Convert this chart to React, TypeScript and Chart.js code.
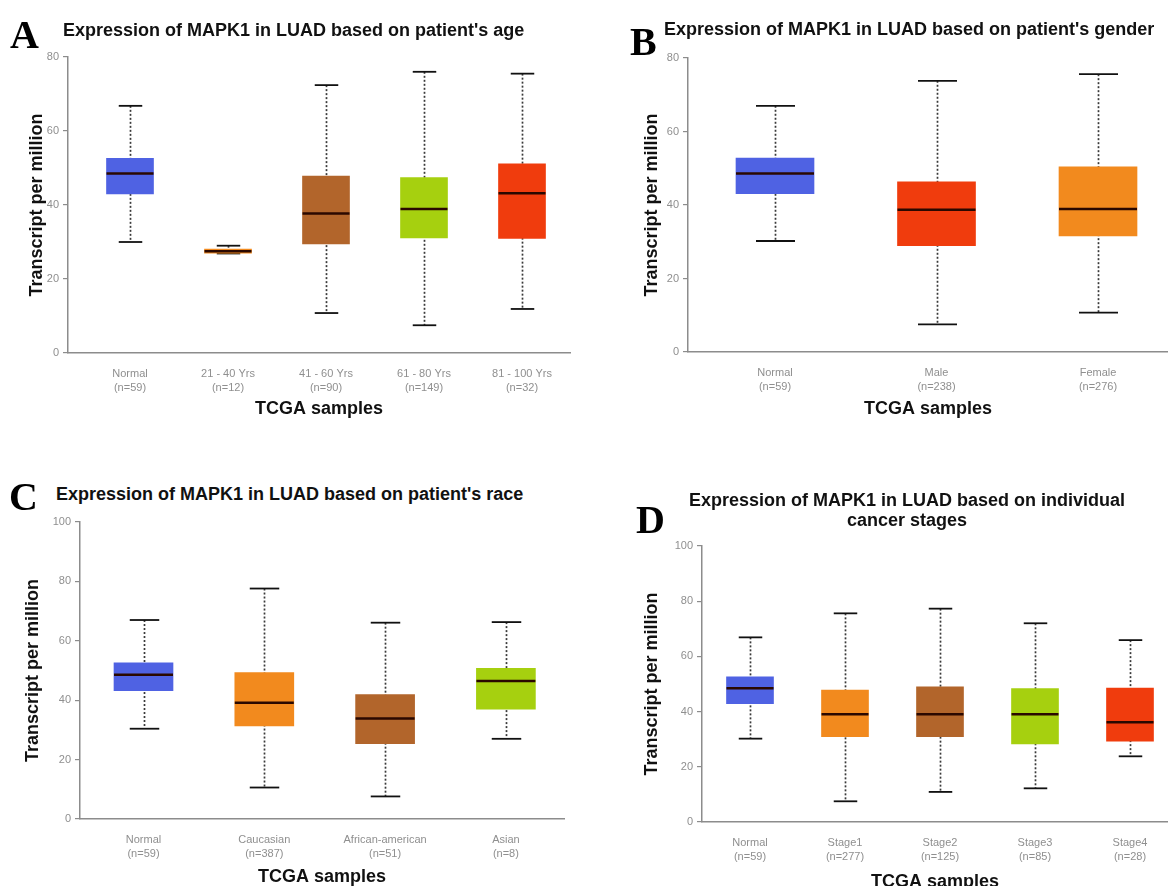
import { useEffect, useRef } from "react";
import { Chart, registerables } from "chart.js";

Chart.register(...registerables);

const BLUE = "#4f62e3";
const ORANGE = "#f28a1e";
const BROWN = "#b2652b";
const LIME = "#a6d00f";
const RED = "#f03c0d";

// ---------- Panel A: age ----------
const ageLabels = [
  ["Normal", "(n=59)"],
  ["21 - 40 Yrs", "(n=12)"],
  ["41 - 60 Yrs", "(n=90)"],
  ["61 - 80 Yrs", "(n=149)"],
  ["81 - 100 Yrs", "(n=32)"],
];
const ageMin = [30.0, 26.9, 10.8, 7.5, 11.9];
const ageQ1 = [43.0, 27.0, 29.5, 31.1, 31.0];
const ageMedian = [48.5, 27.5, 37.7, 38.9, 43.2];
const ageQ3 = [52.6, 28.1, 47.8, 47.4, 51.1];
const ageMax = [66.8, 29.0, 72.4, 76.0, 75.5];
const ageColors = [BLUE, ORANGE, BROWN, LIME, RED];
const ageTicks = [0, 20, 40, 60, 80];

// ---------- Panel B: gender ----------
const genderLabels = [
  ["Normal", "(n=59)"],
  ["Male", "(n=238)"],
  ["Female", "(n=276)"],
];
const genderMin = [30.2, 7.5, 10.7];
const genderQ1 = [43.1, 28.9, 31.6];
const genderMedian = [48.6, 38.7, 38.9];
const genderQ3 = [52.8, 46.3, 50.4];
const genderMax = [67.0, 73.8, 75.6];
const genderColors = [BLUE, RED, ORANGE];
const genderTicks = [0, 20, 40, 60, 80];

// ---------- Panel C: race ----------
const raceLabels = [
  ["Normal", "(n=59)"],
  ["Caucasian", "(n=387)"],
  ["African-american", "(n=51)"],
  ["Asian", "(n=8)"],
];
const raceMin = [30.4, 10.6, 7.6, 27.0];
const raceQ1 = [43.2, 31.3, 25.4, 37.0];
const raceMedian = [48.6, 39.1, 33.8, 46.5];
const raceQ3 = [52.6, 49.3, 41.9, 50.7];
const raceMax = [67.0, 77.6, 66.1, 66.3];
const raceColors = [BLUE, ORANGE, BROWN, LIME];
const raceTicks = [0, 20, 40, 60, 80, 100];

// ---------- Panel D: stage ----------
const stageLabels = [
  ["Normal", "(n=59)"],
  ["Stage1", "(n=277)"],
  ["Stage2", "(n=125)"],
  ["Stage3", "(n=85)"],
  ["Stage4", "(n=28)"],
];
const stageMin = [30.2, 7.5, 10.9, 12.2, 23.8];
const stageQ1 = [42.9, 30.9, 30.9, 28.3, 29.3];
const stageMedian = [48.5, 39.0, 39.0, 39.0, 36.1];
const stageQ3 = [52.6, 47.8, 49.0, 48.3, 48.5];
const stageMax = [66.9, 75.6, 77.3, 72.0, 65.9];
const stageColors = [BLUE, ORANGE, BROWN, LIME, RED];
const stageTicks = [0, 20, 40, 60, 80, 100];

const SANS = "'Liberation Sans', Arial, sans-serif";
const SERIF = "'Liberation Serif', 'Times New Roman', serif";
const AXIS_GRAY = "#8c8c8c";
const TICK_GRAY = "#8f8f8f";

type PanelCfg = {
  key: string;
  labels: string[][];
  min: number[];
  q1: number[];
  median: number[];
  q3: number[];
  max: number[];
  colors: string[];
  ticks: number[];
  yMax: number;
  canvas: { left: number; top: number; w: number; h: number };
  plot: { left: number; top: number; right: number; bottom: number };
  first: number;
  step: number;
  box: number;
  yTitlePad: number;
  xTitlePad: number;
};

const panels: PanelCfg[] = [
  {
    key: "A",
    labels: ageLabels, min: ageMin, q1: ageQ1, median: ageMedian, q3: ageQ3, max: ageMax,
    colors: ageColors, ticks: ageTicks, yMax: 80,
    canvas: { left: 0, top: 40, w: 580, h: 386 },
    plot: { left: 68, top: 57, right: 570, bottom: 353 },
    first: 130, step: 98, box: 47, yTitlePad: 26, xTitlePad: 6,
  },
  {
    key: "B",
    labels: genderLabels, min: genderMin, q1: genderQ1, median: genderMedian, q3: genderQ3, max: genderMax,
    colors: genderColors, ticks: genderTicks, yMax: 80,
    canvas: { left: 600, top: 40, w: 568, h: 386 },
    plot: { left: 688, top: 58, right: 1168, bottom: 352 },
    first: 775, step: 161.5, box: 78, yTitlePad: 41, xTitlePad: 6,
  },
  {
    key: "C",
    labels: raceLabels, min: raceMin, q1: raceQ1, median: raceMedian, q3: raceQ3, max: raceMax,
    colors: raceColors, ticks: raceTicks, yMax: 100,
    canvas: { left: 0, top: 505, w: 580, h: 385 },
    plot: { left: 80, top: 522, right: 564, bottom: 819 },
    first: 143.5, step: 120.8, box: 59, yTitlePad: 22, xTitlePad: 2,
  },
  {
    key: "D",
    labels: stageLabels, min: stageMin, q1: stageQ1, median: stageMedian, q3: stageQ3, max: stageMax,
    colors: stageColors, ticks: stageTicks, yMax: 100,
    canvas: { left: 600, top: 520, w: 568, h: 374 },
    plot: { left: 702, top: 546, right: 1168, bottom: 822 },
    first: 750, step: 95, box: 47, yTitlePad: 41, xTitlePad: 1,
  },
];

function BoxPanel({ cfg }: { cfg: PanelCfg }) {
  const ref = useRef<HTMLCanvasElement | null>(null);

  useEffect(() => {
    const c = cfg;
    const yAxisWidth = c.plot.left - c.canvas.left;
    const xAxisHeight = c.canvas.top + c.canvas.h - c.plot.bottom;
    const padTop = c.plot.top - c.canvas.top;
    const padRight = c.canvas.left + c.canvas.w - c.plot.right;
    const xMin = (c.plot.left - c.first) / c.step;
    const xMax = (c.plot.right - c.first) / c.step;

    const boxPlugin = {
      id: "boxparts" + c.key,
      beforeDatasetsDraw(chart: any) {
        const { ctx } = chart;
        const x = chart.scales.x;
        const y = chart.scales.y;
        ctx.save();
        c.labels.forEach((_, i) => {
          const px = Math.round(x.getPixelForValue(i)) + 0.5;
          const yLo = y.getPixelForValue(c.min[i]);
          const yHi = y.getPixelForValue(c.max[i]);
          ctx.strokeStyle = "#3a3a3a";
          ctx.lineWidth = 1.7;
          ctx.setLineDash([2, 2]);
          ctx.beginPath();
          ctx.moveTo(px, yHi);
          ctx.lineTo(px, yLo);
          ctx.stroke();
          ctx.setLineDash([]);
          ctx.strokeStyle = "#111";
          ctx.lineWidth = 1.8;
          const hw = c.box / 4;
          [yLo, yHi].forEach((py) => {
            ctx.beginPath();
            ctx.moveTo(px - hw, py);
            ctx.lineTo(px + hw, py);
            ctx.stroke();
          });
        });
        ctx.restore();
      },
      afterDatasetsDraw(chart: any) {
        const { ctx } = chart;
        const x = chart.scales.x;
        const y = chart.scales.y;
        ctx.save();
        ctx.strokeStyle = "#2a0800";
        ctx.lineWidth = 2.5;
        c.labels.forEach((_, i) => {
          const px = x.getPixelForValue(i);
          const py = y.getPixelForValue(c.median[i]);
          ctx.beginPath();
          ctx.moveTo(px - c.box / 2, py);
          ctx.lineTo(px + c.box / 2, py);
          ctx.stroke();
        });
        ctx.restore();
      },
    };

    const chart = new Chart(ref.current as HTMLCanvasElement, {
      type: "bar",
      data: {
        datasets: [
          {
            data: c.labels.map((_, i) => ({ x: i, y: [c.q1[i], c.q3[i]] })) as any,
            backgroundColor: c.colors,
            borderWidth: 0,
            barThickness: c.box,
          },
        ],
      },
      options: {
        animation: false,
        responsive: false,
        maintainAspectRatio: false,
        layout: { padding: { top: padTop, right: padRight, left: 0, bottom: 0 } },
        plugins: {
          legend: { display: false },
          tooltip: { enabled: false },
          title: { display: false },
        },
        scales: {
          x: {
            type: "linear",
            offset: false,
            min: xMin,
            max: xMax,
            afterBuildTicks: (s: any) => {
              s.ticks = c.labels.map((_, i) => ({ value: i }));
            },
            afterFit: (s: any) => {
              s.height = xAxisHeight;
            },
            ticks: {
              autoSkip: false,
              maxRotation: 0,
              padding: 14,
              color: TICK_GRAY,
              font: { family: SANS, size: 11, lineHeight: 1.25 },
              callback: (v: any) => c.labels[Math.round(Number(v))] as any,
            },
            grid: { display: false, drawTicks: false, offset: false },
            border: { display: true, color: AXIS_GRAY, width: 1.5 },
            title: {
              display: true,
              text: "TCGA samples",
              color: "#111",
              font: { family: SANS, size: 18, weight: "bold", lineHeight: 1.2 },
              padding: { top: 0, bottom: c.xTitlePad },
            },
          },
          y: {
            type: "linear",
            min: 0,
            max: c.yMax,
            afterBuildTicks: (s: any) => {
              s.ticks = c.ticks.map((v) => ({ value: v }));
            },
            afterFit: (s: any) => {
              s.width = yAxisWidth;
            },
            ticks: {
              padding: 4,
              color: TICK_GRAY,
              font: { family: SANS, size: 11 },
            },
            grid: {
              display: true,
              drawOnChartArea: false,
              drawTicks: true,
              tickLength: 5,
              color: AXIS_GRAY,
              lineWidth: 1.2,
            },
            border: { display: true, color: AXIS_GRAY, width: 1.5 },
            title: {
              display: true,
              text: "Transcript per million",
              color: "#111",
              font: { family: SANS, size: 18, weight: "bold", lineHeight: 1.2 },
              padding: { top: c.yTitlePad, bottom: 0 },
            },
          },
        },
      } as any,
      plugins: [boxPlugin],
    });
    return () => chart.destroy();
  }, [cfg]);

  return (
    <canvas
      ref={ref}
      width={cfg.canvas.w}
      height={cfg.canvas.h}
      style={{
        position: "absolute",
        left: cfg.canvas.left,
        top: cfg.canvas.top,
        width: cfg.canvas.w,
        height: cfg.canvas.h,
      }}
    />
  );
}

const titleStyle: any = {
  position: "absolute",
  fontFamily: SANS,
  fontWeight: "bold",
  fontSize: 18,
  lineHeight: "22px",
  color: "#111",
  whiteSpace: "nowrap",
};

const letterStyle: any = {
  position: "absolute",
  fontFamily: SERIF,
  fontWeight: "bold",
  fontSize: 40,
  lineHeight: "40px",
  color: "#000",
};

export default function App() {
  return (
    <div
      style={{
        position: "absolute",
        left: 0,
        top: 0,
        width: 1168,
        height: 886,
        overflow: "hidden",
        background: "#fff",
      }}
    >
      {panels.map((p) => (
        <BoxPanel key={p.key} cfg={p} />
      ))}

      <div style={{ ...letterStyle, left: 10, top: 15 }}>A</div>
      <div style={{ ...titleStyle, left: 63, top: 19 }}>
        Expression of MAPK1 in LUAD based on patient's age
      </div>

      <div style={{ ...letterStyle, left: 630, top: 22 }}>B</div>
      <div style={{ ...titleStyle, left: 664, top: 18 }}>
        Expression of MAPK1 in LUAD based on patient's gender
      </div>

      <div style={{ ...letterStyle, left: 9, top: 477 }}>C</div>
      <div style={{ ...titleStyle, left: 56, top: 483 }}>
        Expression of MAPK1 in LUAD based on patient's race
      </div>

      <div style={{ ...letterStyle, left: 636, top: 500 }}>D</div>
      <div
        style={{
          ...titleStyle,
          left: 680,
          top: 490,
          width: 454,
          textAlign: "center",
          lineHeight: "20px",
        }}
      >
        Expression of MAPK1 in LUAD based on individual
        <br />
        cancer stages
      </div>
    </div>
  );
}
